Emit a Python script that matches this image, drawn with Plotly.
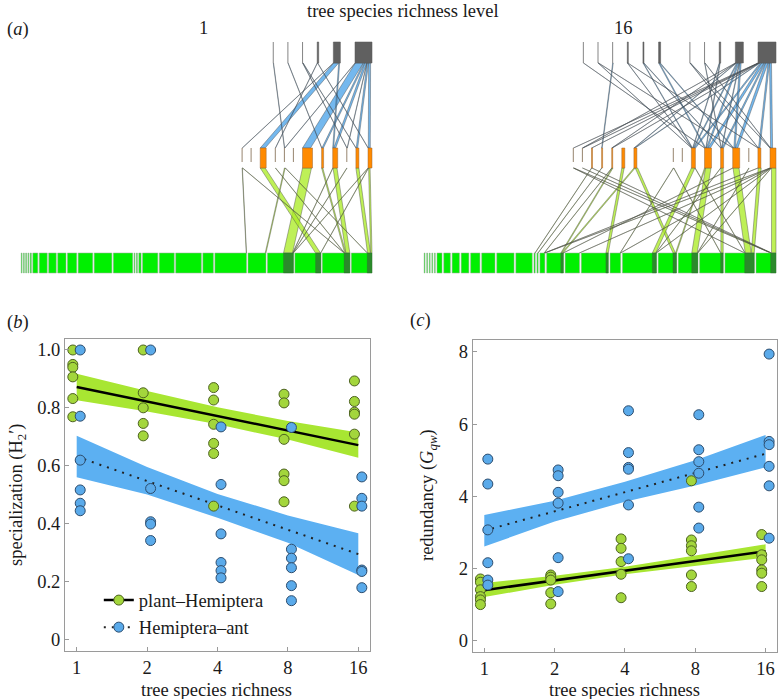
import numpy as np
import plotly.graph_objects as go

# ---------------- panel (a): interaction networks ----------------
# richness level 1
n1_ant_w = [0, 0, 0, 1.5, 7, 17]
n1_ant_kind = ["e", "e", "e", "f", "f", "f"]
n1_hem_w = [9, 6, 0, 9, 10, 2, 5, 0, 3, 4]
n1_hem_kind = ["e", "f", "e", "e", "f", "f", "f", "e", "f", "f"]
n1_plant_w = [0.8, 0.8, 0.8, 0.8, 1.2, 5, 8, 7.6, 8.3, 9.3, 14.6, 17.7, 19.4,
              0.8, 1, 2.3, 15.3, 15, 25.7, 10.6, 31.7, 18, 26, 26, 27.6, 20.7]
# (hemiptera, ant, weight)
n1_up_links = [(4, 5, 8.0), (1, 4, 5.0), (5, 5, 1.5), (6, 5, 2.0), (8, 5, 1.5), (9, 5, 2.0),
               (6, 4, 1.0), (3, 0, 0.3), (5, 1, 0.3), (7, 2, 0.3), (8, 2, 0.3), (2, 3, 0.3),
               (9, 3, 0.3), (0, 4, 0.3), (3, 5, 0.3), (7, 5, 0.3)]
# (plant, hemiptera, weight)
n1_low_links = [(22, 4, 9.0), (23, 1, 5.0), (24, 6, 4.0), (25, 8, 3.0), (24, 5, 1.2),
                (25, 9, 1.5), (21, 3, 0.8), (20, 0, 0.3), (22, 9, 0.3), (24, 2, 0.3),
                (25, 3, 0.3), (22, 7, 0.3), (23, 9, 0.3), (22, 6, 0.3), (24, 0, 0.3)]

# richness level 16
n16_ant_w = [0, 0, 0, 1, 1, 2, 0, 0, 0, 1.5, 8, 18]
n16_ant_kind = ["e", "e", "e", "f", "f", "f", "n", "e", "e", "f", "f", "f"]
n16_hem_w = [0, 0, 1, 1, 1, 3, 3, 0, 0, 0, 9, 4, 7, 3, 7, 0, 3, 6]
n16_hem_kind = ["e", "e", "f", "f", "f", "f", "f", "n", "n", "n", "e", "f", "f", "f", "f",
                "e", "f", "f"]
n16_plant_w = [0.8, 0.8, 0.8, 0.8, 0.8, 5, 6.6, 7.3, 7.7, 9.3, 13.3, 17.3, 16.4, 1.2, 1.2,
               5, 16.7, 14.4, 27, 10.6, 34, 18.3, 19.6, 23.6, 29.3, 20]
n16_up_links = [(17, 11, 2.0), (16, 11, 1.5), (14, 11, 2.5), (13, 11, 1.5), (12, 11, 2.5),
                (11, 11, 1.5), (6, 11, 0.8), (14, 10, 1.5), (12, 10, 1.5), (11, 10, 1.0),
                (13, 10, 0.6), (6, 10, 0.6), (12, 5, 1.0), (14, 5, 0.8), (11, 4, 0.6),
                (13, 4, 0.5), (11, 3, 0.3), (16, 3, 0.3), (3, 2, 0.6), (12, 0, 0.3),
                (14, 1, 0.3), (11, 1, 0.3), (16, 7, 0.3), (17, 7, 0.3), (13, 8, 0.3),
                (17, 8, 0.3), (11, 9, 0.5), (12, 9, 0.5), (0, 11, 0.3), (1, 11, 0.3),
                (2, 11, 0.3), (4, 11, 0.3), (1, 10, 0.3), (4, 10, 0.3)]
n16_low_links = [(18, 5, 2.4), (16, 4, 1.0), (16, 6, 1.3), (21, 6, 2.5), (20, 11, 3.5),
                 (22, 12, 5.5), (23, 13, 2.3), (24, 14, 6.0), (24, 16, 3.0), (25, 17, 4.5),
                 (21, 12, 1.0), (25, 0, 0.3), (25, 1, 0.3), (24, 0, 0.3), (25, 2, 0.3),
                 (15, 17, 0.3), (17, 17, 0.3), (19, 17, 0.3), (20, 17, 0.3), (22, 17, 0.3),
                 (14, 3, 0.3), (13, 2, 0.3), (15, 4, 0.3), (19, 10, 0.3), (23, 10, 0.3),
                 (22, 15, 0.3), (24, 11, 0.3), (20, 13, 0.3), (15, 16, 0.3), (16, 14, 0.3)]

# ---------------- panels (b), (c): data ----------------
richness = [1, 2, 4, 8, 16]

spec_plant_hem = [[1.0, 0.95, 0.94, 0.907, 0.832, 0.769],
                  [1.0, 0.852, 0.80, 0.746, 0.703],
                  [0.870, 0.827, 0.743, 0.677, 0.642, 0.460],
                  [0.847, 0.817, 0.691, 0.571, 0.548, 0.475],
                  [0.893, 0.822, 0.785, 0.778, 0.709, 0.460]]
spec_hem_ant = [[1.0, 0.771, 0.619, 0.516, 0.470, 0.444],
                [1.0, 0.521, 0.406, 0.398, 0.341],
                [0.734, 0.535, 0.364, 0.265, 0.237, 0.212],
                [0.732, 0.311, 0.280, 0.247, 0.185, 0.133],
                [0.561, 0.487, 0.460, 0.239, 0.234, 0.178]]
spec_ph_fit = [0.872, 0.822, 0.772, 0.721, 0.671]
spec_ph_lo = [0.826, 0.787, 0.743, 0.690, 0.627]
spec_ph_hi = [0.918, 0.858, 0.802, 0.754, 0.715]
spec_ha_fit = [0.631, 0.547, 0.462, 0.378, 0.294]
spec_ha_lo = [0.560, 0.500, 0.420, 0.333, 0.222]
spec_ha_hi = [0.703, 0.595, 0.502, 0.428, 0.366]

red_plant_hem = [[1.71, 1.62, 1.41, 1.22, 1.13, 1.0],
                 [1.82, 1.76, 1.68, 1.33, 1.02],
                 [2.82, 2.56, 2.19, 1.84, 1.19],
                 [4.43, 2.79, 2.63, 2.49, 1.82, 1.50],
                 [2.94, 2.38, 2.24, 1.96, 1.87, 1.50]]
red_hem_ant = [[5.03, 4.34, 3.07, 2.16, 1.68, 1.54],
               [4.73, 4.57, 4.11, 3.81, 2.30, 1.36],
               [6.37, 5.21, 4.80, 4.75, 3.76, 2.27],
               [6.26, 5.29, 4.96, 4.64, 3.70, 3.12],
               [7.94, 5.52, 5.43, 4.83, 4.29, 2.84]]
red_ph_fit = [1.40, 1.67, 1.94, 2.21, 2.48]
red_ph_lo = [1.21, 1.55, 1.84, 2.08, 2.30]
red_ph_hi = [1.60, 1.80, 2.05, 2.35, 2.67]
red_ha_fit = [3.05, 3.58, 4.11, 4.65, 5.18]
red_ha_lo = [2.61, 3.30, 3.85, 4.30, 4.80]
red_ha_hi = [3.48, 3.88, 4.40, 5.00, 5.70]

# ---------------- styles ----------------
W, H = 778, 699
FONT = "Liberation Serif"
FS = 18.5
GREEN = "#a3d63c"
GREEN_EDGE = "#4d6220"
BLUE = "#5aaaea"
BLUE_EDGE = "#2d4d6e"
GREEN_BAND = "#a8e632"
BLUE_BAND = "#5cb0f2"
DOTS = "2px,6px"
MS = 10
Y_ANT = (42, 63)
Y_HEM = (148, 168)
Y_PLANT = (253, 273)

fig = go.Figure()
shapes = []


def level_x(widths, gap, right):
    w = np.asarray(widths, float)
    total = w.sum() + gap * (len(w) - 1)
    return right - total + np.concatenate([[0.0], np.cumsum(w[:-1] + gap)])


def stack(links, own, other_x, start):
    """offsets of each link end within its node"""
    pos = {}
    groups = {}
    for k, l in enumerate(links):
        groups.setdefault(l[own], []).append(k)
    for node, ks in groups.items():
        ks = sorted(ks, key=lambda k: other_x(links[k]))
        x = start(node, sum(links[k][2] for k in ks))
        for k in ks:
            pos[k] = x
            x += links[k][2]
    return pos


def poly(x0, w0, y0, x1, w1, y1, fill):
    shapes.append(dict(type="path", xref="x3", yref="y3", layer="above",
                       path=f"M {x0},{y0} L {x0 + w0},{y0} L {x1 + w1},{y1} L {x1},{y1} Z",
                       fillcolor=fill, line=dict(color="rgba(70,70,70,0.6)", width=0.7)))


def rect(x0, x1, y0, y1, fill, edge, ew=0.6):
    shapes.append(dict(type="rect", xref="x3", yref="y3", layer="above",
                       x0=x0, x1=x1, y0=y0, y1=y1, fillcolor=fill,
                       line=dict(color=edge, width=ew)))


def vline(x, y0, y1, color):
    shapes.append(dict(type="line", xref="x3", yref="y3", layer="above",
                       x0=x, x1=x, y0=y0, y1=y1, line=dict(color=color, width=1)))


def network(ant_w, ant_kind, hem_w, hem_kind, plant_w, up, low, right, plant_gap):
    ax = level_x(ant_w, 14.65, right)
    hx = level_x(hem_w, 9.1, right)
    px = level_x(plant_w, plant_gap, right)
    pw = np.asarray(plant_w, float)
    # lower links
    p_off = stack(low, 0, lambda l: hx[l[1]], lambda n, s: px[n] + pw[n] - s)
    h_off = stack(low, 1, lambda l: px[l[0]], lambda n, s: hx[n])
    for k, (p, h, w) in enumerate(low):
        poly(p_off[k], w, Y_PLANT[0], h_off[k], w, Y_HEM[1], "rgba(172,236,40,0.78)")
    # upper links
    h_off2 = stack(up, 0, lambda l: ax[l[1]], lambda n, s: hx[n])
    a_off = stack(up, 1, lambda l: hx[l[0]], lambda n, s: ax[n])
    for k, (h, a, w) in enumerate(up):
        poly(h_off2[k], w, Y_HEM[0], a_off[k], w, Y_ANT[1], "rgba(70,160,232,0.75)")
    # plant nodes with interacting (dark) part
    dark = np.zeros(len(plant_w))
    for p, h, w in low:
        dark[p] += w
    for i in range(len(plant_w)):
        rect(px[i], px[i] + pw[i], Y_PLANT[0], Y_PLANT[1], "#00f000", "rgba(150,175,150,0.9)")
        if dark[i] >= 1:
            rect(px[i] + pw[i] - dark[i], px[i] + pw[i], Y_PLANT[0], Y_PLANT[1],
                 "#2b8a2b", "rgba(40,110,40,0.9)", 0.3)
    # hemiptera nodes
    for i, (w, k) in enumerate(zip(hem_w, hem_kind)):
        if k == "f":
            rect(hx[i], hx[i] + w, Y_HEM[0], Y_HEM[1], "#ff8a00", "rgba(150,100,50,0.8)")
        elif k == "e":
            vline(hx[i], Y_HEM[0], Y_HEM[1] - 6, "rgba(140,120,95,0.9)")
            if w > 0:
                vline(hx[i] + w, Y_HEM[0], Y_HEM[1] - 6, "rgba(140,120,95,0.9)")
    # ant nodes
    for i, (w, k) in enumerate(zip(ant_w, ant_kind)):
        if k == "f":
            rect(ax[i], ax[i] + w, Y_ANT[0], Y_ANT[1], "#606060", "rgba(90,90,90,0.9)")
        elif k == "e":
            vline(ax[i], Y_ANT[0], Y_ANT[1], "rgba(120,120,120,0.9)")


network(n1_ant_w, n1_ant_kind, n1_hem_w, n1_hem_kind, n1_plant_w,
        n1_up_links, n1_low_links, 372, 1.43)
network(n16_ant_w, n16_ant_kind, n16_hem_w, n16_hem_kind, n16_plant_w,
        n16_up_links, n16_low_links, 776, 1.76)

# anchor trace for the network axes
fig.add_trace(go.Scatter(x=[0], y=[0], xaxis="x3", yaxis="y3", mode="markers",
                         marker=dict(opacity=0), hoverinfo="skip", showlegend=False))


# ---------------- panels (b), (c) ----------------
lx = np.log2(richness)


def panel(xa, ya, ph_vals, ha_vals, ph_fit, ph_lo, ph_hi, ha_fit, ha_lo, ha_hi, legend):
    for fit, lo, hi, col in [(ha_fit, ha_lo, ha_hi, BLUE_BAND), (ph_fit, ph_lo, ph_hi, GREEN_BAND)]:
        fig.add_trace(go.Scatter(x=np.concatenate([lx, lx[::-1]]),
                                 y=np.concatenate([hi, lo[::-1]]), fill="toself",
                                 fillcolor=col, line=dict(width=0), mode="lines",
                                 xaxis=xa, yaxis=ya, showlegend=False, hoverinfo="skip"))
    fig.add_trace(go.Scatter(x=lx, y=ph_fit, mode="lines", line=dict(color="black", width=2.5),
                             xaxis=xa, yaxis=ya, showlegend=False))
    fig.add_trace(go.Scatter(x=lx, y=ha_fit, mode="lines",
                             line=dict(color="#222", width=2, dash=DOTS),
                             xaxis=xa, yaxis=ya, showlegend=False))
    for vals, off, col, edge in [(ph_vals, -0.055, GREEN, GREEN_EDGE),
                                 (ha_vals, 0.05, BLUE, BLUE_EDGE)]:
        xs, ys = [], []
        for xv, v in zip(lx, vals):
            xs += [xv + off] * len(v)
            ys += v
        fig.add_trace(go.Scatter(x=xs, y=ys, mode="markers", xaxis=xa, yaxis=ya,
                                 marker=dict(size=MS, color=col, line=dict(color=edge, width=1)),
                                 showlegend=False))
    if legend:
        fig.add_trace(go.Scatter(x=[None], y=[None], mode="lines+markers", name="plant\u2013Hemiptera",
                                 line=dict(color="black", width=2.5), xaxis=xa, yaxis=ya,
                                 marker=dict(size=MS, color=GREEN, line=dict(color=GREEN_EDGE, width=1))))
        fig.add_trace(go.Scatter(x=[None], y=[None], mode="lines+markers", name="Hemiptera\u2013ant",
                                 line=dict(color="#222", width=2, dash=DOTS), xaxis=xa, yaxis=ya,
                                 marker=dict(size=MS, color=BLUE, line=dict(color=BLUE_EDGE, width=1))))


panel("x", "y", spec_plant_hem, spec_hem_ant, spec_ph_fit, spec_ph_lo, spec_ph_hi,
      spec_ha_fit, spec_ha_lo, spec_ha_hi, True)
panel("x2", "y2", red_plant_hem, red_hem_ant, red_ph_fit, red_ph_lo, red_ph_hi,
      red_ha_fit, red_ha_lo, red_ha_hi, False)

axis_common = dict(showline=True, mirror=True, linecolor="#9a9a9a", linewidth=1,
                   ticks="inside", ticklen=4, tickcolor="#9a9a9a", showgrid=False,
                   zeroline=False, tickfont=dict(family=FONT, size=FS, color="#1a1a1a"))

fig.update_layout(
    width=W, height=H, margin=dict(l=0, r=0, t=0, b=0),
    paper_bgcolor="white", plot_bgcolor="white",
    font=dict(family=FONT, size=FS, color="#1a1a1a"),
    xaxis=dict(domain=[65 / W, 370 / W], range=[-0.166, 4.166], tickvals=lx,
               ticktext=[str(r) for r in richness], anchor="y", **axis_common),
    yaxis=dict(domain=[1 - 650.7 / H, 1 - 339 / H], range=[-0.04, 1.038],
               tickvals=[0, 0.2, 0.4, 0.6, 0.8, 1.0],
               ticktext=["0", "0.2", "0.4", "0.6", "0.8", "1.0"], anchor="x", **axis_common),
    xaxis2=dict(domain=[472.7 / W, 776.5 / W], range=[-0.165, 4.155], tickvals=lx,
                ticktext=[str(r) for r in richness], anchor="y2", **axis_common),
    yaxis2=dict(domain=[1 - 651.7 / H, 1 - 340 / H], range=[-0.305, 8.33],
                tickvals=[0, 2, 4, 6, 8], anchor="x2", **axis_common),
    xaxis3=dict(domain=[0, 1], range=[0, W], visible=False, anchor="y3"),
    yaxis3=dict(domain=[1 - 280 / H, 1], range=[280, 0], visible=False, anchor="x3"),
    shapes=shapes,
    showlegend=True,
    legend=dict(x=0.127, y=0.168, xanchor="left", yanchor="top", bgcolor="rgba(0,0,0,0)",
                font=dict(family=FONT, size=FS, color="#1a1a1a"), itemwidth=30,
                tracegroupgap=0),
)


def ann(text, x, y, angle=0, size=FS):
    fig.add_annotation(text=text, x=x / W, y=1 - y / H, xref="paper", yref="paper",
                       showarrow=False, textangle=angle, xanchor="center", yanchor="middle",
                       font=dict(family=FONT, size=size, color="#1a1a1a"))


ann("tree species richness level", 403, 11)
ann("1", 203, 28)
ann("16", 623, 28)
ann("(<i>a</i>)", 18, 29)
ann("(<i>b</i>)", 18, 322)
ann("(<i>c</i>)", 420, 321)
ann("specialization (H<sub>2</sub>\u2032)", 17, 495, -90)
ann("redundancy (<i>G<sub>qw</sub></i>)", 428, 495, -90)
ann("tree species richness", 217, 690)
ann("tree species richness", 624, 690)

fig.write_html("out.html", config={"displayModeBar": False},
               post_script="document.body.style.margin='0';document.body.style.overflow='hidden';")
